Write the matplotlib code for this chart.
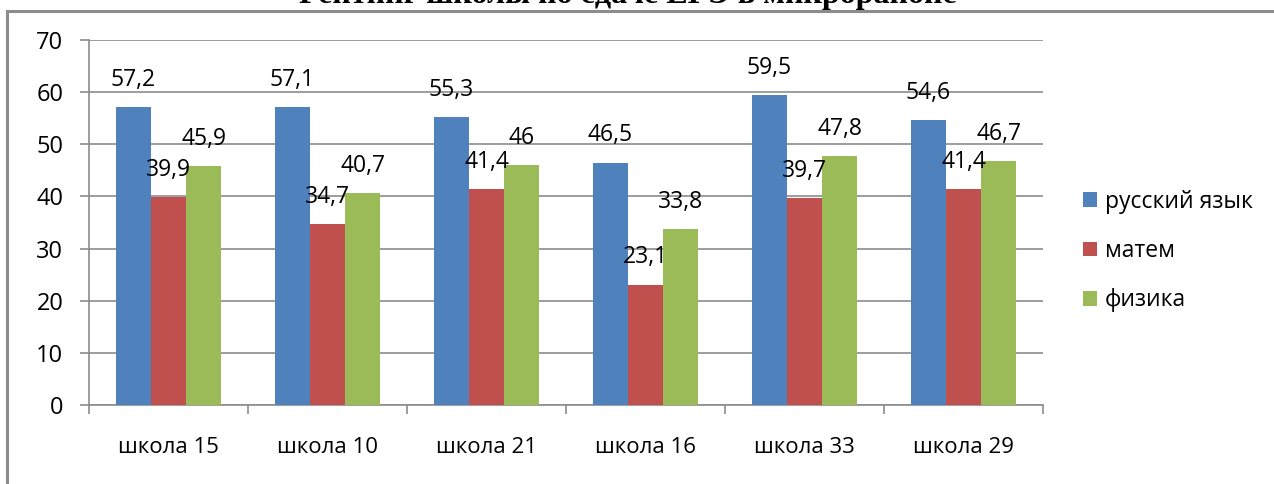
import matplotlib
matplotlib.use("Agg")
import matplotlib.pyplot as plt
import numpy as np
from matplotlib.lines import Line2D

title = "Рейтинг школы по сдаче ЕГЭ в микрорайоне"
categories = ["школа 15", "школа 10", "школа 21", "школа 16", "школа 33", "школа 29"]
series_names = ["русский язык", "матем", "физика"]
russian = [57.2, 57.1, 55.3, 46.5, 59.5, 54.6]
math = [39.9, 34.7, 41.4, 23.1, 39.7, 41.4]
physics = [45.9, 40.7, 46.0, 33.8, 47.8, 46.7]
colors = ["#4F81BD", "#C0504D", "#9BBB59"]

plt.rcParams['font.family'] = ['Open Sans', 'DejaVu Sans']

W, H = 1274, 484
fig = plt.figure(figsize=(W / 100, H / 100), dpi=100)
ax = fig.add_axes([89 / W, 1 - 405 / H, (1043 - 89) / W, (405 - 40) / H])

x = np.arange(len(categories))
bw = 0.222
grid_c = "#8C8C8C"
for i, (vals, c, name) in enumerate(zip([russian, math, physics], colors, series_names)):
    bars = ax.bar(x + (i - 1) * bw, vals, width=bw, color=c, label=name, zorder=3)
    for b, v in zip(bars, vals):
        lab = ("%g" % v).replace(".", ",")
        ax.annotate(lab, (b.get_x() + b.get_width() / 2, v), xytext=(0, 19.5),
                    textcoords="offset points", ha="center", va="center",
                    fontsize=16.5, color="#000000", zorder=5)

ax.set_xlim(-0.5, len(categories) - 0.5)
ax.set_ylim(0, 70)
ax.set_yticks(np.arange(0, 71, 10))
ax.yaxis.grid(True, color=grid_c, linewidth=1.2, zorder=0)
ax.set_axisbelow(True)
ax.set_xticks(np.arange(-0.5, len(categories), 1.0))
ax.set_xticklabels([])
ax.set_xticks(x, minor=True)
ax.set_xticklabels(categories, minor=True, fontsize=16)
ax.tick_params(axis='x', which='major', length=6.5, color=grid_c, direction='out', width=1.2)
ax.tick_params(axis='x', which='minor', length=0, pad=23)
ax.tick_params(axis='y', length=6.5, color=grid_c, direction='out', width=1.2, pad=12, labelsize=17)
for s in ["top", "right"]:
    ax.spines[s].set_visible(False)
for s in ["left", "bottom"]:
    ax.spines[s].set_color(grid_c)
    ax.spines[s].set_linewidth(1.2)

fig.legend(loc="center left", bbox_to_anchor=(1083 / W, 1 - 251 / H), frameon=False,
           fontsize=16.5, handlelength=0.62, handleheight=0.62, handletextpad=0.35,
           labelspacing=1.1, borderpad=0, borderaxespad=0)

# frame lines
fig.add_artist(Line2D([7 / W, 1.0], [1 - 11 / H, 1 - 11 / H], color="#8C8C8C", linewidth=2.2))
fig.add_artist(Line2D([7 / W, 7 / W], [0, 1 - 11 / H], color="#8C8C8C", linewidth=2.2))

fig.text(628 / W, 1 - 3 / H, title, ha="center", va="baseline", fontsize=23,
         fontweight="bold", family="Liberation Serif")

fig.savefig("out.png", dpi=100)
